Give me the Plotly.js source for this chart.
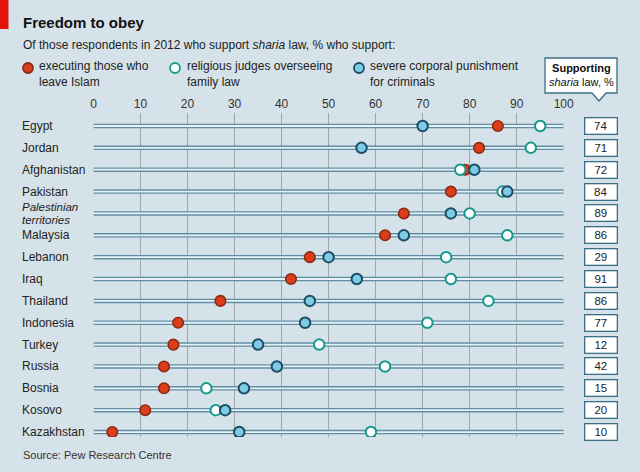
<!DOCTYPE html>
<html>
<head>
<meta charset="utf-8">
<script src="https://cdn.plot.ly/plotly-3.0.1.min.js"></script>
<style>
html,body{margin:0;padding:0;background:#d6e2e9;}
#chart{width:640px;height:472px;}
</style>
</head>
<body>
<div id="chart"></div>
<script>
const countries = ["Egypt","Jordan","Afghanistan","Pakistan","Palestinian territories","Malaysia","Lebanon","Iraq","Thailand","Indonesia","Turkey","Russia","Bosnia","Kosovo","Kazakhstan"];
const countryLabels = ["Egypt","Jordan","Afghanistan","Pakistan","<i>Palestinian</i>|<i>territories</i>","Malaysia","Lebanon","Iraq","Thailand","Indonesia","Turkey","Russia","Bosnia","Kosovo","Kazakhstan"];
const executing = [86,82,79,76,66,62,46,42,27,18,17,15,15,11,4];
const judges    = [95,93,78,87,80,88,75,76,84,71,48,62,24,26,59];
const corporal  = [70,57,81,88,76,66,50,56,46,45,35,39,32,28,31];
const supporting = [74,71,72,84,89,86,29,91,86,77,12,42,15,20,10];
const tickVals = [0,10,20,30,40,50,60,70,80,90,100];
const legendLabels = ["executing those who<br>leave Islam","religious judges overseeing<br>family law","severe corporal punishment<br>for criminals"];

const W = 640, H = 472;
const px = x => x / W;
const py = y => 1 - y / H;
const FONT = "Liberation Sans, Arial, sans-serif";
const BG = "#d6e2e9";

const idx = countries.map((c, i) => i);
const axisMin = tickVals[0], axisMax = tickVals[tickVals.length - 1];

// row bars
const barX = [], barY = [];
idx.forEach(i => { barX.push(axisMin, axisMax, null); barY.push(i, i, null); });

const traces = [
  {x: barX, y: barY, mode: "lines", line: {color: "#5f8ea3", width: 4.5}, hoverinfo: "skip", showlegend: false},
  {x: barX, y: barY, mode: "lines", line: {color: "#e8f1f5", width: 1.8}, hoverinfo: "skip", showlegend: false},
  {x: executing, y: idx, mode: "markers", name: "executing", showlegend: false,
   marker: {size: 10.5, color: "#dc3d1a", line: {color: "#8c2a12", width: 1.6}}},
  {x: judges, y: idx, mode: "markers", name: "judges", showlegend: false,
   marker: {size: 10.5, color: "#ffffff", line: {color: "#17998a", width: 2}}},
  {x: corporal, y: idx, mode: "markers", name: "corporal", showlegend: false,
   marker: {size: 10.5, color: "#7dcbe7", line: {color: "#1c4d64", width: 2}}}
];

const annotations = [];
// title & subtitle
annotations.push({xref: "paper", yref: "paper", x: px(21), y: py(23), xanchor: "left", yanchor: "middle",
  text: "<b>Freedom to obey</b>", showarrow: false, font: {family: FONT, size: 15, color: "#111"}});
annotations.push({xref: "paper", yref: "paper", x: px(21), y: py(45), xanchor: "left", yanchor: "middle",
  text: "Of those respondents in 2012 who support <i>sharia</i> law, % who support:", showarrow: false,
  font: {family: FONT, size: 12, color: "#222"}});
// legend text
const legTextX = [37, 185, 368];
legendLabels.forEach((t, k) => annotations.push({xref: "paper", yref: "paper", x: px(legTextX[k]), y: py(74.5),
  xanchor: "left", yanchor: "middle", align: "left", text: t, showarrow: false,
  font: {family: FONT, size: 12, color: "#222"}}));
// callout text
annotations.push({xref: "paper", yref: "paper", x: px(581), y: py(75.5), xanchor: "center", yanchor: "middle",
  align: "center", text: "<b>Supporting</b><br><i>sharia</i> law, %", showarrow: false,
  font: {family: FONT, size: 11, color: "#111"}});
// country labels (multi-line labels split with tight leading)
countryLabels.forEach((t, i) => {
  const lines = t.split("|");
  const lead = 13.5;
  lines.forEach((ln, j) => annotations.push({xref: "paper", yref: "y", x: px(21), y: i,
    yshift: -(j - (lines.length - 1) / 2) * lead, borderpad: 0,
    xanchor: "left", yanchor: "middle", align: "left", text: ln, showarrow: false,
    font: {family: FONT, size: lines.length > 1 ? 11.5 : 12, color: "#222"}}));
});
// supporting value boxes
supporting.forEach((v, i) => annotations.push({xref: "paper", yref: "y", x: px(600.5), y: i,
  xanchor: "center", yanchor: "middle", text: String(v), showarrow: false,
  bgcolor: "#ffffff", bordercolor: "#3b6f84", borderwidth: 1.3, borderpad: 1, width: 29, height: 13,
  font: {family: FONT, size: 11.5, color: "#222"}}));
// source
annotations.push({xref: "paper", yref: "paper", x: px(21), y: py(455), xanchor: "left", yanchor: "middle",
  text: "Source: Pew Research Centre", showarrow: false, font: {family: FONT, size: 11, color: "#333"}});

const shapes = [];
// red strip
shapes.push({type: "rect", xref: "paper", yref: "paper", x0: 0, x1: px(8.5), y0: py(29), y1: py(0),
  fillcolor: "#e3120b", line: {width: 0}});
// legend circles
const legDotX = [28, 175, 359];
const legStyles = [
  {fill: "#dc3d1a", line: "#8c2a12"},
  {fill: "#ffffff", line: "#17998a"},
  {fill: "#7dcbe7", line: "#1c4d64"}
];
legDotX.forEach((x, k) => shapes.push({type: "circle", xref: "paper", yref: "paper",
  xsizemode: "pixel", ysizemode: "pixel", xanchor: px(x), yanchor: py(68),
  x0: -5, x1: 5, y0: -5, y1: 5, fillcolor: legStyles[k].fill, line: {color: legStyles[k].line, width: 1.8}}));
// callout box
const cp = [[545,58],[617,58],[617,93],[606,93],[599,101],[592,93],[545,93]];
shapes.push({type: "path", xref: "paper", yref: "paper",
  path: "M " + cp.map(p => px(p[0]).toFixed(5) + "," + py(p[1]).toFixed(5)).join(" L ") + " Z",
  fillcolor: "#ffffff", line: {color: "#3b6f84", width: 1.3}});

const rowTop = 126, rowStep = 21.86;
const yTopPx = 113, yBotPx = 437;
const yRange = [(yBotPx - rowTop) / rowStep, (yTopPx - rowTop) / rowStep];

const layout = {
  width: W, height: H,
  margin: {l: 0, r: 0, t: 0, b: 0, pad: 0},
  paper_bgcolor: BG, plot_bgcolor: "rgba(0,0,0,0)",
  showlegend: false,
  xaxis: {domain: [px(93.5), px(563.7)], range: [axisMin, axisMax], side: "top",
    tickvals: tickVals, ticktext: tickVals.map(String), ticks: "", ticklabelstandoff: 2,
    showgrid: true, gridcolor: "#a0a7ab", gridwidth: 1.4, zeroline: false, showline: false,
    tickfont: {family: FONT, size: 12, color: "#333"}, fixedrange: true},
  yaxis: {domain: [1 - yBotPx / H, 1 - yTopPx / H], range: yRange, showgrid: false,
    zeroline: false, showticklabels: false, ticks: "", showline: false, fixedrange: true},
  annotations: annotations,
  shapes: shapes
};

Plotly.newPlot("chart", traces, layout, {displayModeBar: false, staticPlot: true});
</script>
</body>
</html>
